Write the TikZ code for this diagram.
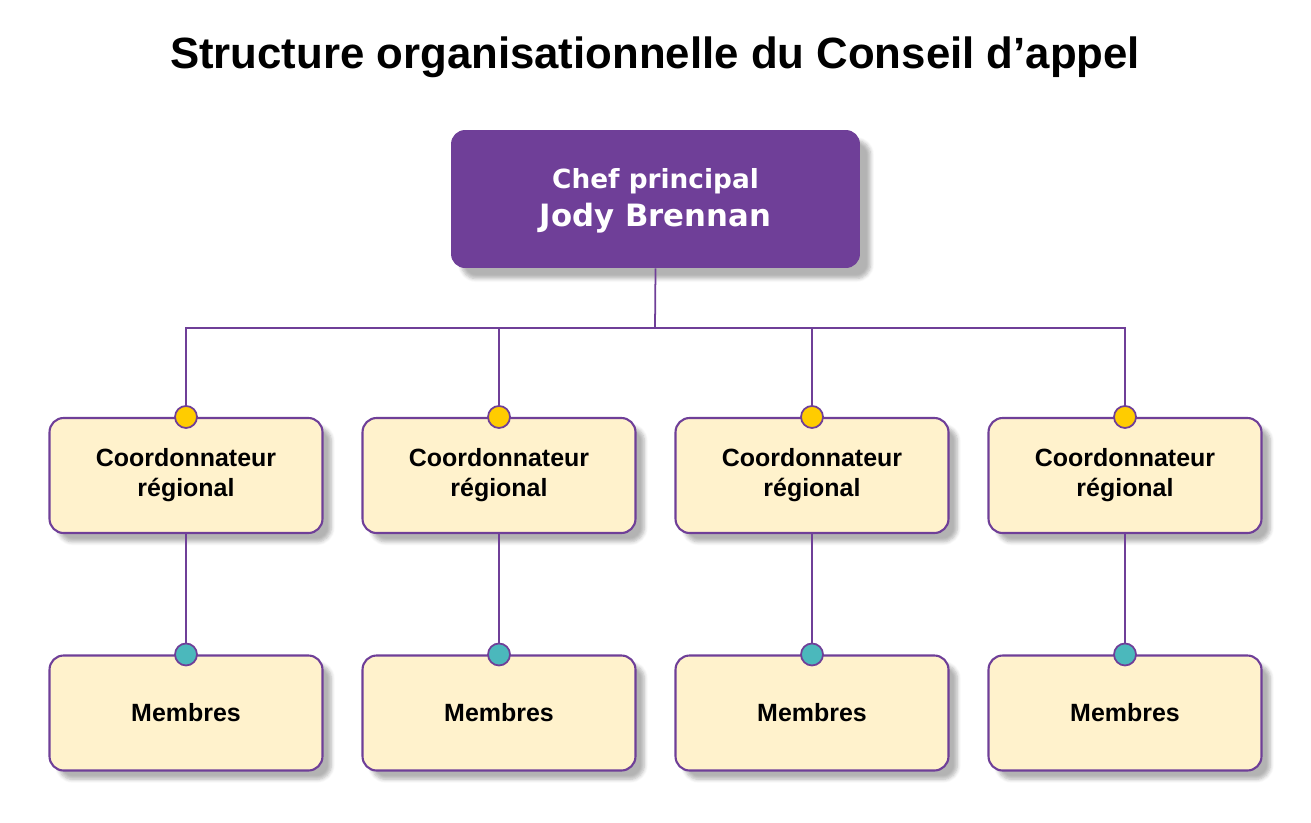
\documentclass[tikz,border=0pt]{standalone}
\usepackage{fontspec}
\setmainfont{Liberation Sans}
\newfontfamily\dvs{DejaVu Sans}
\usetikzlibrary{shadows.blur}
\definecolor{purp}{HTML}{6F3F98}
\definecolor{cream}{HTML}{FFF2CC}
\definecolor{gold}{HTML}{FFCC00}
\definecolor{teal}{HTML}{4BB8BC}
\begin{document}
\begin{tikzpicture}[x=0.02cm,y=-0.02cm,
  box/.style={draw=purp,line width=1.2pt,fill=cream,rounded corners=8pt,minimum width=5.46cm,minimum height=2.3cm,align=center,font=\bfseries\fontsize{14.2}{17}\selectfont,blur shadow={shadow blur steps=6,shadow xshift=5pt,shadow yshift=-5pt,shadow opacity=30}},
  top/.style={fill=purp,rounded corners=8pt,minimum width=8.18cm,minimum height=2.76cm,align=center,text=white,blur shadow={shadow blur steps=6,shadow xshift=6pt,shadow yshift=-6pt,shadow opacity=30}},
  dot/.style={circle,draw=purp,line width=1pt,inner sep=0pt,minimum size=0.44cm},
  conn/.style={draw=purp,line width=1pt}]
\useasboundingbox (0,0) rectangle (1311,822);
\node[font=\bfseries\fontsize{24.9}{30}\selectfont] (title) at (655,57) {Structure organisationnelle du Conseil d’appel};
\node[top] (chef) at (655.5,199) {};
\node[text=white,align=center] (chefT) at (655.5,201) {{\dvs\bfseries\fontsize{15}{20}\selectfont Chef principal}\\[4pt]{\dvs\bfseries\fontsize{17.5}{20}\selectfont Jody Brennan}};
\coordinate (j) at (655,328);
\draw[conn] (chef.south) -- (j);
\foreach \i/\x in {1/186,2/499,3/812,4/1125}{
  \node[box] (c\i) at (\x,475.5) {Coordonnateur\\régional};
  \node[box] (m\i) at (\x,713) {Membres};
  \coordinate (h\i) at (\x,328);
  \draw[conn] (j) -- (h\i) -- (c\i.north);
  \draw[conn] (c\i.south) -- (m\i.north);
  \node[dot,fill=gold] (dc\i) at (c\i.north) {};
  \node[dot,fill=teal] (dm\i) at (m\i.north) {};
}
\end{tikzpicture}
\end{document}
